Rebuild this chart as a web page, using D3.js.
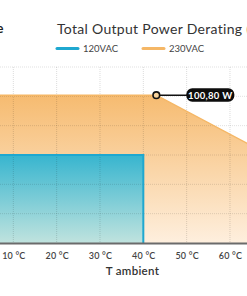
<!DOCTYPE html>
<html>
<head>
<meta charset="utf-8">
<script src="https://cdn.jsdelivr.net/npm/d3@7"></script>
<style>
body{margin:0;background:#fff;overflow:hidden;}
svg{display:block;font-family:Lato,"Noto Sans",sans-serif;}
</style>
</head>
<body>
<svg id="chart" width="247" height="296"></svg>
<script>
// data
var temps=[0,10,20,30,40,50,60,70];
var tickTemps=[10,20,30,40,50,60];
var powerTicks=[0,20,40,60,80,100,120];
var series120=[[0,60],[40,60],[40,0]];
var series230=[[0,100.8],[43,100.8],[70,58.5]];
var seriesNames=["120VAC","230VAC"];
var seriesColors=["#1fa8d0","#f5b766"];
var peakLabel="100,80 W";

var svg=d3.select("#chart");

var x=d3.scaleLinear().domain([0,75]).range([-30,-30+75*4.333]);
var y=d3.scaleLinear().domain([0,120]).range([243,67]);

var defs=svg.append("defs");
var gO=defs.append("linearGradient").attr("id","gOrange").attr("x1",0).attr("y1",0).attr("x2",0).attr("y2",1);
gO.append("stop").attr("offset","0%").attr("stop-color","#f6bb70");
gO.append("stop").attr("offset","100%").attr("stop-color","#feefde");
var gB=defs.append("linearGradient").attr("id","gBlue").attr("x1",0).attr("y1",0).attr("x2",0).attr("y2",1);
gB.append("stop").attr("offset","0%").attr("stop-color","#37b5cf");
gB.append("stop").attr("offset","100%").attr("stop-color","#c0e3de");

var area=d3.area().x(function(d){return x(d[0]);}).y0(y(0)).y1(function(d){return y(d[1]);});
var line=d3.line().x(function(d){return x(d[0]);}).y(function(d){return y(d[1]);});

svg.append("path").datum(series230).attr("d",area).attr("fill","url(#gOrange)");
svg.append("path").datum(series120).attr("d",area).attr("fill","url(#gBlue)");

// grid on top, faint
svg.selectAll(".gx").data(temps.slice(1)).enter().append("line")
    .attr("x1",function(d){return x(d);}).attr("x2",function(d){return x(d);})
    .attr("y1",y(120)).attr("y2",y(0))
    .attr("stroke","rgba(0,0,0,0.14)").attr("stroke-dasharray","1,1");
svg.selectAll(".gy").data(powerTicks.slice(1)).enter().append("line")
    .attr("x1",0).attr("x2",247)
    .attr("y1",function(d){return y(d);}).attr("y2",function(d){return y(d);})
    .attr("stroke","rgba(0,0,0,0.12)").attr("stroke-dasharray","1,1");

svg.append("path").datum(series230).attr("d",line).attr("fill","none")
    .attr("stroke",seriesColors[1]).attr("stroke-width",1.5);
svg.append("path").datum(series120).attr("d",line).attr("fill","none")
    .attr("stroke",seriesColors[0]).attr("stroke-width",2);

// x axis
var xAxis=svg.append("g").attr("transform","translate(0,"+y(0)+")")
    .call(d3.axisBottom(x).tickValues(tickTemps).tickSize(0).tickPadding(9.5)
        .tickFormat(function(d){return d+" °C";}));
xAxis.select(".domain").attr("stroke","#6b6b6b").attr("stroke-width",2);
xAxis.selectAll("text").attr("font-size",9).attr("font-weight",600)
    .attr("fill","#444").attr("font-family","Lato,sans-serif").attr("letter-spacing",0.2);

svg.append("text").attr("x",x(37.5)).attr("y",275).attr("text-anchor","middle")
    .attr("font-size",11.5).attr("font-weight",600).attr("fill","#333")
    .attr("letter-spacing",0.3).text("T ambient");

// peak marker + label
var px=x(series230[1][0]), py=y(series230[1][1]);
svg.append("line").attr("x1",px).attr("y1",py).attr("x2",px+32).attr("y2",py)
    .attr("stroke","#111").attr("stroke-width",1.5);
svg.append("circle").attr("cx",px).attr("cy",py).attr("r",3.3)
    .attr("fill","#f8d39c").attr("stroke","#111").attr("stroke-width",1.6);
svg.append("rect").attr("x",px+30).attr("y",py-7).attr("width",48).attr("height",13.5)
    .attr("rx",6).attr("fill","#0c0c0c");
svg.append("text").attr("x",px+54).attr("y",py+3.4).attr("text-anchor","middle")
    .attr("font-size",9.5).attr("font-weight",700).attr("fill","#fff")
    .attr("letter-spacing",0.3).text(peakLabel);

// title + heading + legend
svg.append("text").attr("x",3.5).attr("y",33).attr("text-anchor","end")
    .attr("font-size",13).attr("font-weight",700).attr("fill","#222").text("Performance");
svg.append("text").attr("x",57).attr("y",33.5)
    .attr("font-size",14).attr("fill","#333").attr("letter-spacing",0.3)
    .text("Total Output Power Derating (W)");

var legX=[57,143];
seriesNames.forEach(function(n,i){
    svg.append("line").attr("x1",legX[i]).attr("x2",legX[i]+21).attr("y1",48.5).attr("y2",48.5)
        .attr("stroke",seriesColors[i]).attr("stroke-width",3).attr("stroke-linecap","round");
    svg.append("text").attr("x",legX[i]+26).attr("y",52.2)
        .attr("font-size",9.5).attr("fill","#444").text(n);
});
</script>
</body>
</html>
